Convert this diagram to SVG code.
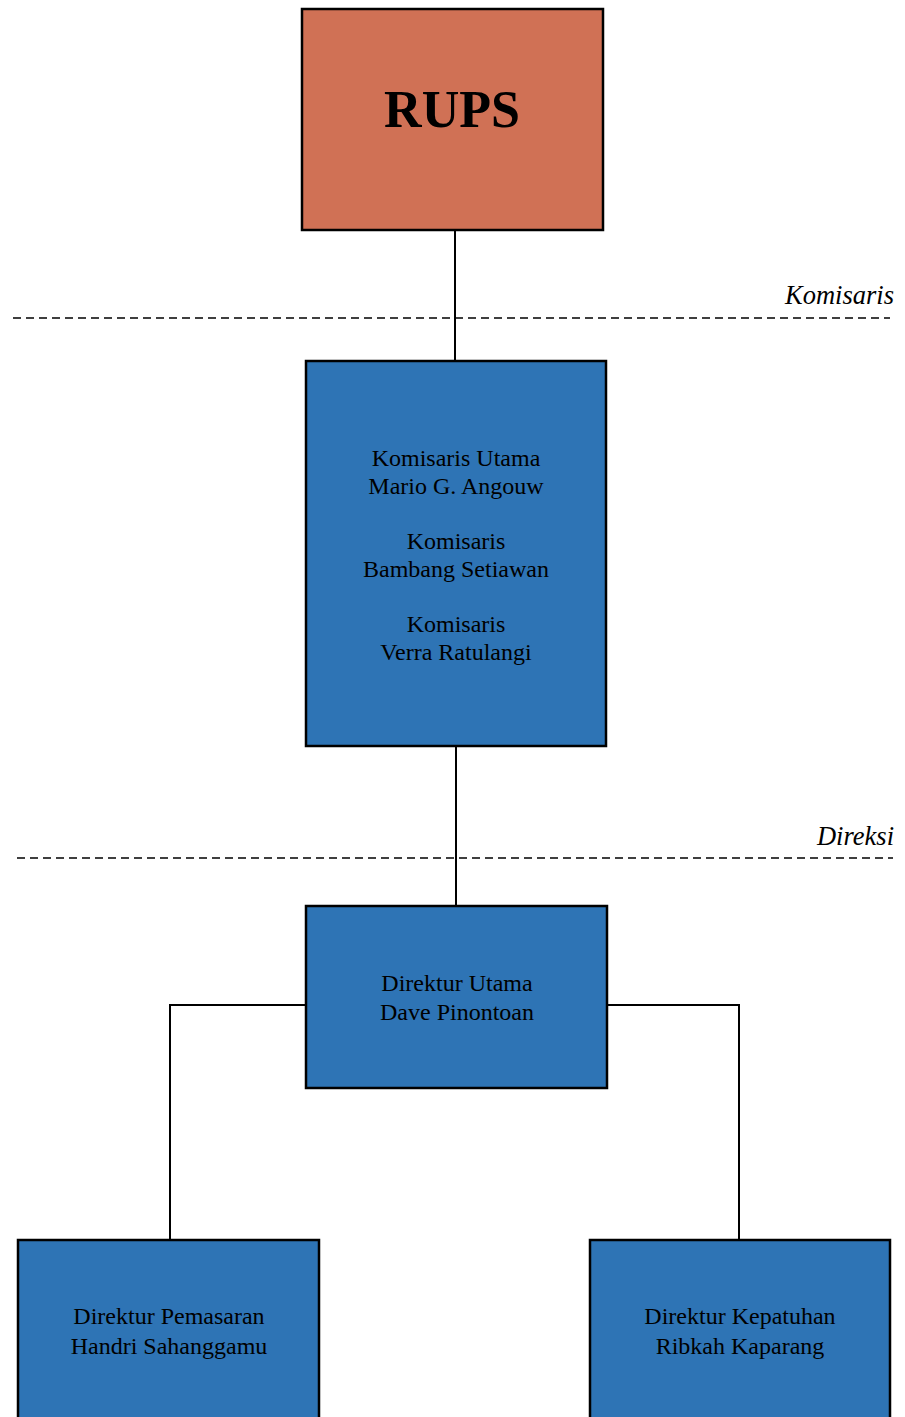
<svg xmlns="http://www.w3.org/2000/svg" width="905" height="1417" viewBox="0 0 905 1417">
<style>
.box{fill:#2E74B5;stroke:#000;stroke-width:2.5}
.t{font-family:"Liberation Serif","Times New Roman",serif;font-size:24px;fill:#000;text-anchor:middle}
.lab{font-family:"Liberation Serif","Times New Roman",serif;font-size:26.5px;font-style:italic;fill:#000;text-anchor:end}
.c{stroke:#000;stroke-width:2;fill:none}
.d{stroke:#000;stroke-width:1.5;stroke-dasharray:8 5;fill:none}
</style>
<rect width="905" height="1417" fill="#fff"/>
<g id="dividers">
<line class="d" x1="13" y1="318" x2="890" y2="318"/>
<text class="lab" x="894" y="304">Komisaris</text>
<line class="d" x1="17" y1="858" x2="893" y2="858"/>
<text class="lab" x="894" y="845">Direksi</text>
</g>
<g id="connectors">
<line class="c" x1="455" y1="230" x2="455" y2="361"/>
<line class="c" x1="456" y1="746" x2="456" y2="906"/>
<polyline class="c" points="306,1005 170,1005 170,1240"/>
<polyline class="c" points="607,1005 739,1005 739,1240"/>
</g>
<g id="rups">
<rect x="302" y="9" width="301" height="221" fill="#D07155" stroke="#000" stroke-width="2.5"/>
<text x="452" y="127" font-family="'Liberation Serif','Times New Roman',serif" font-size="52" font-weight="bold" text-anchor="middle">RUPS</text>
</g>
<g id="komisaris">
<rect class="box" x="306" y="361" width="300" height="385"/>
<text class="t" x="456" y="466">Komisaris Utama</text>
<text class="t" x="456" y="494">Mario G. Angouw</text>
<text class="t" x="456" y="549">Komisaris</text>
<text class="t" x="456" y="577">Bambang Setiawan</text>
<text class="t" x="456" y="632">Komisaris</text>
<text class="t" x="456" y="660">Verra Ratulangi</text>
</g>
<g id="direktur-utama">
<rect class="box" x="306" y="906" width="301" height="182"/>
<text class="t" x="457" y="991">Direktur Utama</text>
<text class="t" x="457" y="1020">Dave Pinontoan</text>
</g>
<g id="direktur-pemasaran">
<rect class="box" x="18" y="1240" width="301" height="190"/>
<text class="t" x="169" y="1324">Direktur Pemasaran</text>
<text class="t" x="169" y="1354">Handri Sahanggamu</text>
</g>
<g id="direktur-kepatuhan">
<rect class="box" x="590" y="1240" width="300" height="190"/>
<text class="t" x="740" y="1324">Direktur Kepatuhan</text>
<text class="t" x="740" y="1354">Ribkah Kaparang</text>
</g>
</svg>
